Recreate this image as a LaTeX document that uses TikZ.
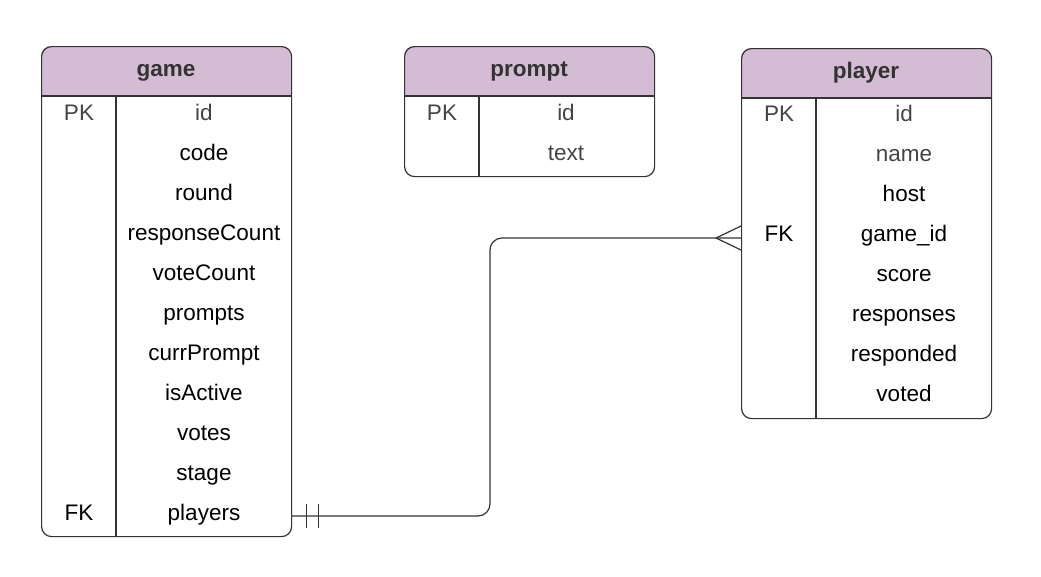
\documentclass[tikz,border=0pt]{standalone}
\usepackage{fontspec}
\setmainfont{Liberation Sans}
\definecolor{hdr}{RGB}{212,188,212}
\definecolor{ln}{RGB}{51,51,51}
\definecolor{gtx}{RGB}{68,68,68}
\begin{document}
\begin{tikzpicture}[x=1pt,y=-1pt,
  tbl/.style={draw=ln, line width=1.2pt, rounded corners=10pt, rectangle, inner sep=0pt, anchor=north west},
  hfill/.style={fill=hdr},
  sep/.style={draw=ln, line width=1.2pt},
  txt/.style={inner sep=0pt, text height=16pt, text depth=4.5pt},
  ttl/.style={txt, font=\fontsize{22.5}{26}\selectfont\bfseries, text=ln},
  fld/.style={txt, font=\fontsize{22.5}{26}\selectfont, text=black},
  gfld/.style={txt, font=\fontsize{22.5}{26}\selectfont, text=gtx},
  conn/.style={draw=ln, line width=1.2pt}]
\useasboundingbox (0,0) rectangle (1041,576);
% ---------- game ----------
\fill[hfill] (41,96) [rounded corners=10pt] -- (41,46) -- (291,46) [sharp corners] -- (291,96) -- cycle;
\node[tbl, minimum width=250pt, minimum height=490pt] (game) at (41,46) {};
\draw[sep] (41,96) -- (291,96);
\draw[sep] (116,96) -- (116,536);
\node[ttl] (gt) at (166,71) {game};
\node[gfld] (gpk) at (79,115) {PK};
\node[gfld] (gid) at (204,115) {id};
\node[fld] (gcode) at (204,155) {code};
\node[fld] (ground) at (204,195) {round};
\node[fld] (grc) at (204,235) {responseCount};
\node[fld] (gvc) at (204,275) {voteCount};
\node[fld] (gpr) at (204,315) {prompts};
\node[fld] (gcp) at (204,355) {currPrompt};
\node[fld] (gia) at (204,395) {isActive};
\node[fld] (gvo) at (204,435) {votes};
\node[fld] (gst) at (204,475) {stage};
\node[fld] (gfk) at (79,515) {FK};
\node[fld] (gpl) at (204,515) {players};
% ---------- prompt ----------
\fill[hfill] (404,96) [rounded corners=10pt] -- (404,46) -- (654,46) [sharp corners] -- (654,96) -- cycle;
\node[tbl, minimum width=250pt, minimum height=130pt] (prompt) at (404,46) {};
\draw[sep] (404,96) -- (654,96);
\draw[sep] (479,96) -- (479,176);
\node[ttl] (pt) at (529,71) {prompt};
\node[gfld] (ppk) at (442,115) {PK};
\node[gfld] (pid) at (566,115) {id};
\node[gfld] (ptx) at (566,155) {text};
% ---------- player ----------
\fill[hfill] (741,98) [rounded corners=10pt] -- (741,48) -- (991,48) [sharp corners] -- (991,98) -- cycle;
\node[tbl, minimum width=250pt, minimum height=370pt] (player) at (741,48) {};
\draw[sep] (741,98) -- (991,98);
\draw[sep] (816,98) -- (816,418);
\node[ttl] (plt) at (866,73) {player};
\node[gfld] (plpk) at (779,116) {PK};
\node[gfld] (plid) at (904,116) {id};
\node[gfld] (plname) at (904,156) {name};
\node[fld] (plhost) at (904,196) {host};
\node[fld] (plfk) at (779,236) {FK};
\node[fld] (plgid) at (904,236) {game\_id};
\node[fld] (plsc) at (904,276) {score};
\node[fld] (plres) at (904,316) {responses};
\node[fld] (plrd) at (904,356) {responded};
\node[fld] (plvo) at (904,396) {voted};
% ---------- connector ----------
\coordinate (bend) at (490,0);
\coordinate (gend) at ([yshift=-1pt]game.east |- gpl);
\coordinate (pend) at ([yshift=-2pt]player.west |- plgid);
\draw[conn, rounded corners=12pt] (gend) -| (bend |- pend) -- (pend);
% one-and-only-one marks
\draw[conn] ([xshift=14pt,yshift=-12pt]gend) -- ([xshift=14pt,yshift=12pt]gend);
\draw[conn] ([xshift=26pt,yshift=-12pt]gend) -- ([xshift=26pt,yshift=12pt]gend);
% crow's foot
\draw[conn] ([xshift=-25pt]pend) -- ([yshift=-12pt]pend);
\draw[conn] ([xshift=-25pt]pend) -- ([yshift=12pt]pend);
\end{tikzpicture}
\end{document}
